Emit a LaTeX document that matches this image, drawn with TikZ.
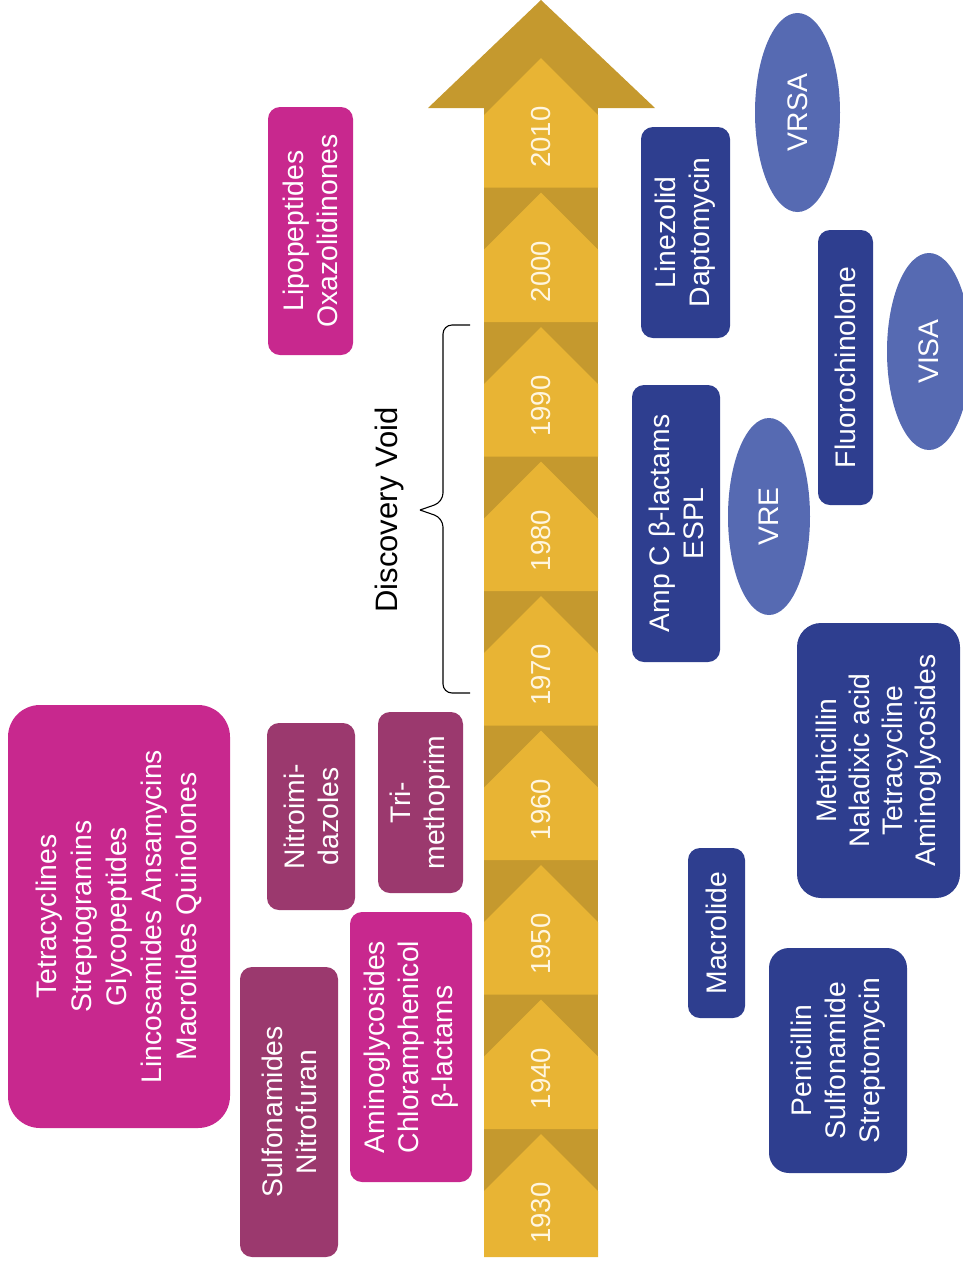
\documentclass[tikz,border=0pt]{standalone}
\usepackage{fontspec}
\setmainfont{Liberation Sans}
\usetikzlibrary{shapes.geometric}

\definecolor{barlight}{RGB}{232,180,52}
\definecolor{bardark}{RGB}{197,153,46}
\definecolor{yeartext}{RGB}{255,246,224}
\definecolor{drugpink}{RGB}{200,40,142}
\definecolor{drugplum}{RGB}{155,57,110}
\definecolor{resnavy}{RGB}{46,62,143}
\definecolor{resblue}{RGB}{86,106,178}

\tikzset{
	boxdim/.style 2 args={minimum height=#1,minimum width=#2},
	drug/.style={rectangle,rounded corners=12pt,rotate=90,inner sep=0pt,text=white,align=center,font=\fontsize{28.3}{34}\selectfont},
	pinkbox/.style={drug,fill=drugpink},
	plumbox/.style={drug,fill=drugplum},
	navybox/.style={drug,fill=resnavy},
	bug/.style={ellipse,rotate=90,inner sep=0pt,fill=resblue,text=white,font=\fontsize{28.3}{34}\selectfont},
	year/.style={rotate=90,text=yeartext,font=\fontsize{27.5}{30}\selectfont}
}

\begin{document}
\begin{tikzpicture}[x=1pt,y=-1pt]
						\useasboundingbox (0,0) rectangle (962,1270);
						
						% Draw the arrow
						\fill[bardark] (484,108) rectangle (598,1257);
						\fill[bardark] (428,108) -- (541,0) -- (655,108) -- cycle;
						\foreach \yr [count=\i from 0] in {2010,2000,...,1930}{
							\pgfmathsetmacro{\segtip}{58+134.5*\i}
							\pgfmathsetmacro{\segend}{\i<8 ? \segtip+129.5 : 1257}
							\fill[barlight] (541,\segtip) -- (598,\segtip+57) -- (598,\segend) -- (484,\segend) -- (484,\segtip+57) -- cycle;
							\node[year] (y\yr) at (541,\segtip+79) {\yr};
						}
						
						% Define the discovery void
						\coordinate (voidtop) at (470,325);
						\coordinate (voidbot) at (470,693);
						\coordinate (voidtip) at (420,510);
						\draw[line width=1.1pt,rounded corners=9pt] (voidtop) -- (443,325) -- (443,502) -- (voidtip);
						\draw[line width=1.1pt,rounded corners=9pt] (voidbot) -- (443,693) -- (443,518) -- (voidtip);
						\node[rotate=90,font=\fontsize{31}{36}\selectfont] (void) at (389,510) {Discovery Void};
						
						% Draw the antibiotic classes
						\node[pinkbox,boxdim={222}{423},rounded corners=32pt,font=\fontsize{28.3}{35}\selectfont] (classes) at (119,916.5) {Tetracyclines\\Streptogramins\\Glycopeptides\\Lincosamides Ansamycins\\Macrolides Quinolones};
						\node[plumbox,boxdim={98}{290}] (sulfa) at (289,1112) {Sulfonamides\\Nitrofuran};
						\node[plumbox,boxdim={88}{187}] (nitroimi) at (311,816.5) {Nitroimi-\\dazoles};
						\node[plumbox,boxdim={85}{181}] (trimeth) at (420.5,802.5) {Tri-\\methoprim};
						\node[pinkbox,boxdim={122}{270}] (amino) at (411,1047) {Aminoglycosides\\Chloramphenicol\\β-lactams};
						\node[pinkbox,boxdim={85}{248}] (lipo) at (310.5,231) {Lipopeptides\\Oxazolidinones};
						
						% Draw the resistance
						\node[navybox,boxdim={89}{211}] (linezolid) at (685.5,232.5) {Linezolid\\Daptomycin};
						\node[navybox,boxdim={88}{277}] (ampc) at (676,523.5) {Amp C β-lactams\\ESPL};
						\node[navybox,boxdim={57}{170}] (macrolide) at (716.5,933) {Macrolide};
						\node[navybox,boxdim={138}{225},rounded corners=20pt] (penicillin) at (838,1060.5) {Penicillin\\Sulfonamide\\Streptomycin};
						\node[navybox,boxdim={163}{275},rounded corners=24pt,font=\fontsize{28.3}{33}\selectfont] (methicillin) at (878.5,760.5) {Methicillin\\Naladixic acid\\Tetracycline\\Aminoglycosides};
						\node[navybox,boxdim={55}{275}] (fluoro) at (845.5,367.5) {Fluorochinolone};
						\node[bug,boxdim={85}{199}] (vrsa) at (797.5,112.5) {VRSA};
						\node[bug,boxdim={84}{197}] (visa) at (929,351.5) {VISA};
						\node[bug,boxdim={82}{197}] (vre) at (769,516.5) {VRE};
					\end{tikzpicture}
\end{document}
